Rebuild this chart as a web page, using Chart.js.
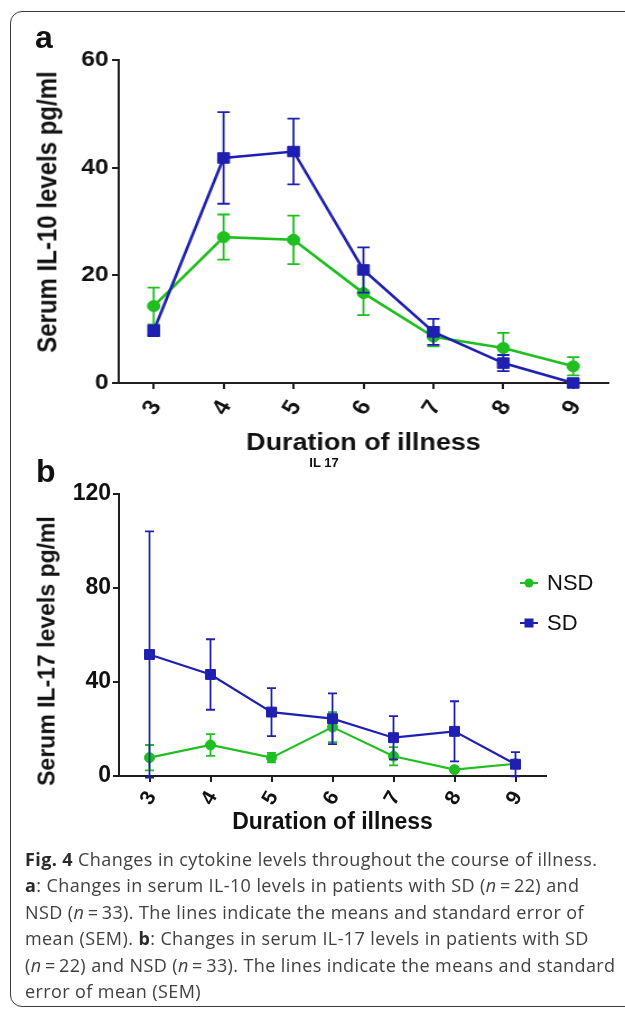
<!DOCTYPE html>
<html>
<head>
<meta charset="utf-8">
<script src="https://cdn.jsdelivr.net/npm/chart.js@4.4.0/dist/chart.umd.min.js"></script>
<style>
  html, body { margin: 0; padding: 0; background: #fff; }
  body { width: 625px; height: 1010px; position: relative; overflow: hidden; font-family: "Liberation Sans", Arial, sans-serif; color: #111; }
  .frame { position: absolute; left: 10px; top: 11px; width: 660px; height: 996px; box-sizing: border-box; border: 1.5px solid #3a3a3a; border-radius: 12px; }
  #wrapA { position: absolute; left: 0; top: 0; width: 558px; height: 470px; transform: scaleX(1.12); transform-origin: 0 0; }
  #wrapB { position: absolute; left: 0; top: 460px; width: 625px; height: 380px; }
  .ytitle { position: absolute; font-weight: bold; white-space: nowrap; line-height: 1; transform: translate(-50%, -50%) rotate(-90deg); }
  .panel { position: absolute; font-weight: bold; font-size: 32px; line-height: 1; }
  .sub { position: absolute; font-weight: bold; font-size: 13px; line-height: 1; transform: translateX(-50%); }
  .caption { position: absolute; left: 25px; top: 846px; font-family: "Open Sans", sans-serif; font-size: 18px; letter-spacing: 0.4px; line-height: 26.4px; color: #404040; white-space: nowrap; }
  .caption b { color: #2a2a2a; }
</style>
</head>
<body>
<div class="frame"></div>

<div id="wrapA">
  <canvas id="il10"></canvas>
  <div class="ytitle" style="left:42px; top:212px; font-size:24px;">Serum IL-10 levels pg/ml</div>
</div>
<div class="panel" style="left:35px; top:21px;">a</div>

<div class="panel" style="left:36px; top:455px;">b</div>
<div class="sub" style="left:324px; top:456px;">IL 17</div>
<div id="wrapB">
  <canvas id="il17"></canvas>
  <div class="ytitle" style="left:47px; top:191px; font-size:23px;">Serum IL-17 levels pg/ml</div>
</div>

<div class="caption">
<b>Fig. 4</b> Changes in cytokine levels throughout the course of illness.<br>
<b>a</b>: Changes in serum IL-10 levels in patients with SD (<i>n</i>&thinsp;=&thinsp;22) and<br>
NSD (<i>n</i>&thinsp;=&thinsp;33). The lines indicate the means and standard error of<br>
mean (SEM). <b>b</b>: Changes in serum IL-17 levels in patients with SD<br>
(<i>n</i>&thinsp;=&thinsp;22) and NSD (<i>n</i>&thinsp;=&thinsp;33). The lines indicate the means and standard<br>
error of mean (SEM)
</div>

<script>
  // Duration of illness (days)
  const days = ['3', '4', '5', '6', '7', '8', '9'];

  // Panel a: serum IL-10 (pg/ml), mean and SEM
  const il10Nsd = [14.3, 27.1, 26.6, 16.7, 8.6, 6.5, 3.1];
  const il10NsdSem = [3.4, 4.2, 4.5, 4.1, 1.8, 2.8, 1.7];
  const il10Sd = [9.7, 41.8, 43.0, 21.0, 9.5, 3.7, 0];
  const il10SdSem = [1.0, 8.5, 6.1, 4.2, 2.4, 1.5, 0];

  // Panel b: serum IL-17 (pg/ml), mean and SEM
  const il17Nsd = [7.8, 13.2, 7.8, 20.8, 8.4, 2.7, 5.2];
  const il17NsdSem = [5.4, 4.6, 2.0, 6.4, 3.9, 1.0, 1.0];
  const il17Sd = [51.7, 43.2, 27.2, 24.4, 16.3, 19.0, 5.0];
  const il17SdSem = [52.4, 15.0, 10.2, 10.8, 9.2, 12.8, 5.2];

  const GREEN = '#1fbf1f',
    BLUE = '#1f1fb2',
    AXIS = '#1e1e1e',
    TEXT = '#111',
    FONT = '"Liberation Sans", Arial, sans-serif';

  // SEM whiskers, drawn just before each dataset so they stack with it
  const errorBars = {
    id: 'errorBars',
    beforeDatasetDraw(chart, args, opts) {
      let ds = chart.data.datasets[args.index],
        errs = ds.errors,
        yScale = chart.scales.y,
        ctx = chart.ctx;
      if (!errs) return;
      ctx.save();
      ctx.strokeStyle = ds.borderColor;
      ctx.lineWidth = opts.width;
      args.meta.data.forEach((pt, i) => {
        let v = ds.data[i], e = errs[i];
        if (!e) return;
        let top = yScale.getPixelForValue(v + e),
          bot = yScale.getPixelForValue(v - e),
          h = opts.cap / 2;
        ctx.beginPath();
        ctx.moveTo(pt.x, top); ctx.lineTo(pt.x, bot);
        ctx.moveTo(pt.x - h, top); ctx.lineTo(pt.x + h, top);
        ctx.moveTo(pt.x - h, bot); ctx.lineTo(pt.x + h, bot);
        ctx.stroke();
      });
      ctx.restore();
    }
  };

  // Prism-style legend floating inside the plot (line + marker + label)
  const sideLegend = {
    id: 'sideLegend',
    afterDraw(chart, args, opts) {
      let ctx = chart.ctx;
      chart.data.datasets.forEach((ds, i) => {
        let y = opts.y + i * opts.gap,
          cx = opts.x + 9;
        ctx.save();
        ctx.strokeStyle = ds.borderColor;
        ctx.fillStyle = ds.borderColor;
        ctx.lineWidth = 2;
        ctx.beginPath(); ctx.moveTo(opts.x, y); ctx.lineTo(opts.x + 18, y); ctx.stroke();
        if (ds.pointStyle === 'rect') ctx.fillRect(cx - 4.5, y - 4.5, 9, 9);
        else { ctx.beginPath(); ctx.arc(cx, y, 4.5, 0, Math.PI * 2); ctx.fill(); }
        ctx.fillStyle = TEXT;
        ctx.font = '22px ' + FONT;
        ctx.textBaseline = 'middle';
        ctx.fillText(ds.label, opts.x + 27, y + 1);
        ctx.restore();
      });
    }
  };

  function series(label, data, errors, color, style, radius, width, order) {
    return {
      label, data, errors,
      borderColor: color,
      backgroundColor: color,
      borderWidth: width,
      pointStyle: style,
      pointRadius: radius,
      pointBorderWidth: 1,
      pointBorderColor: color,
      pointBackgroundColor: color,
      tension: 0,
      clip: false,
      order
    };
  }

  function axisGrid() {
    return { display: true, drawOnChartArea: false, offset: false, color: AXIS, lineWidth: 2, tickLength: 6 };
  }

  function panelOptions(o) {
    return {
      responsive: true,
      maintainAspectRatio: false,
      animation: false,
      devicePixelRatio: 1,
      events: [],
      layout: { padding: o.pad },
      scales: {
        x: {
          type: 'category',
          offset: true,
          grid: axisGrid(),
          border: { display: true, color: AXIS, width: 2 },
          ticks: {
            color: TEXT, autoSkip: false,
            minRotation: 60, maxRotation: 60,
            padding: o.xTickPad, labelOffset: o.labelOffset,
            font: { family: FONT, size: o.xTickSize, weight: 'bold' }
          },
          title: {
            display: true, text: 'Duration of illness', color: TEXT,
            font: { family: FONT, size: o.xTitleSize, weight: 'bold' },
            padding: { top: 0, bottom: o.xTitlePad }
          },
          afterFit: (s) => { s.height = o.xHeight; }
        },
        y: {
          min: 0, max: o.yMax,
          grid: axisGrid(),
          border: { display: true, color: AXIS, width: 2 },
          ticks: {
            stepSize: o.yStep, color: TEXT, padding: o.yTickPad,
            font: { family: FONT, size: o.yTickSize, weight: 'bold' }
          },
          afterFit: (s) => { s.width = o.yWidth; }
        }
      },
      plugins: {
        legend: { display: false },
        tooltip: { enabled: false },
        errorBars: { width: o.barWidth, cap: o.cap },
        sideLegend: o.legend
      }
    };
  }

  // Panel a (drawn narrow, stretched 1.12x horizontally like the figure)
  new Chart(document.getElementById('il10').getContext('2d'), {
    type: 'line',
    data: {
      labels: days,
      datasets: [
        series('NSD', il10Nsd, il10NsdSem, GREEN, 'circle', 5.5, 2.6, 1),
        series('SD', il10Sd, il10SdSem, BLUE, 'rect', 7.4, 2.6, 0)
      ]
    },
    options: panelOptions({
      pad: { top: 60, right: 15, bottom: 0, left: 0 },
      yWidth: 106, xHeight: 87, yMax: 60, yStep: 20,
      yTickSize: 22, yTickPad: 3, xTickSize: 22, xTickPad: 7, labelOffset: 2,
      xTitleSize: 24, xTitlePad: 12, barWidth: 1.8, cap: 11
    }),
    plugins: [errorBars]
  });

  // Panel b
  new Chart(document.getElementById('il17').getContext('2d'), {
    type: 'line',
    data: {
      labels: days,
      datasets: [
        series('NSD', il17Nsd, il17NsdSem, GREEN, 'circle', 5, 2.2, 1),
        series('SD', il17Sd, il17SdSem, BLUE, 'rect', 7, 2.2, 0)
      ]
    },
    options: panelOptions({
      pad: { top: 34, right: 79, bottom: 0, left: 0 },
      yWidth: 119, xHeight: 64, yMax: 120, yStep: 40,
      yTickSize: 23, yTickPad: 2, xTickSize: 21, xTickPad: 5, labelOffset: 2,
      xTitleSize: 23, xTitlePad: 4, barWidth: 1.8, cap: 9,
      legend: { x: 520, y: 123, gap: 40 }
    }),
    plugins: [errorBars, sideLegend]
  });
</script>
</body>
</html>
